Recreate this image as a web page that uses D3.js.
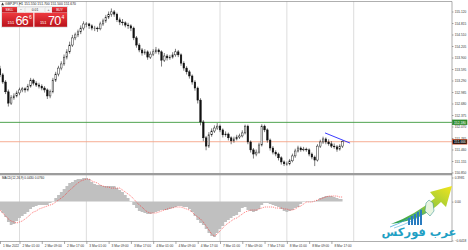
<!DOCTYPE html>
<meta charset="utf-8">
<style>
    body { margin: 0; background: #fff; }
    svg { display: block; font-family: "Liberation Sans", Arial, sans-serif; }
    .axis text { font-size: 3.2px; fill: #333; }
    .axis line { stroke: #555; stroke-width: 0.5; }
    .axis path.domain { display: none; }
    .grid line { stroke: #777; stroke-width: 0.5; stroke-dasharray: 1, 1; }
    .wick { stroke: #111; stroke-width: 0.55; }
    .body.up { fill: #fff; stroke: #111; stroke-width: 0.45; }
    .body.down { fill: #111; stroke: #111; stroke-width: 0.45; }
    .hist { fill: #c0c0c0; }
    .signal { fill: none; stroke: #ff2020; stroke-width: 0.6; stroke-dasharray: 1, 1; }
    .label { font-size: 3.4px; fill: #222; }
</style>
<body>
<script src="https://cdn.jsdelivr.net/npm/d3@7"></script>
<script>
    var width = 468, height = 250;
    var axisX = 452;
    var mainTop = 1.5, mainBottom = 173, sepBottom = 175.3, macdBottom = 241.5;

    var symbol = "GBPJPY,H1";

    // [open, high, low, close], H1 bars from 1 Mar 2022 18:00
    var bars = [
        [153.60, 153.68, 153.38, 153.44], [153.44, 153.49, 153.20, 153.25], [153.25, 153.30, 152.93, 152.99],
        [152.99, 153.05, 152.60, 152.69], [152.69, 152.90, 152.64, 152.83], [152.83, 152.95, 152.78, 152.88],
        [152.88, 153.02, 152.84, 152.96], [152.96, 153.10, 152.90, 153.04], [153.04, 153.12, 152.98, 153.07],
        [153.07, 153.11, 152.97, 153.04], [153.04, 153.20, 153.00, 153.14], [153.14, 153.36, 153.10, 153.30],
        [153.30, 153.34, 153.16, 153.22], [153.22, 153.27, 153.12, 153.17], [153.17, 153.23, 153.08, 153.14],
        [153.14, 153.19, 153.03, 153.09], [153.09, 153.14, 152.97, 153.04], [153.04, 153.08, 152.80, 152.88],
        [152.88, 153.05, 152.82, 152.99], [152.99, 153.36, 152.95, 153.30], [153.30, 153.52, 153.25, 153.46],
        [153.46, 153.68, 153.40, 153.62], [153.62, 153.80, 153.56, 153.73], [153.73, 153.98, 153.68, 153.91],
        [153.91, 154.12, 153.85, 154.05], [154.05, 154.32, 154.00, 154.23], [154.23, 154.50, 154.18, 154.42],
        [154.42, 154.56, 154.36, 154.50], [154.50, 154.64, 154.44, 154.58], [154.58, 154.75, 154.52, 154.68],
        [154.68, 154.86, 154.62, 154.79], [154.79, 154.84, 154.70, 154.79], [154.79, 154.82, 154.66, 154.74],
        [154.74, 154.78, 154.62, 154.68], [154.68, 154.74, 154.60, 154.68], [154.68, 154.72, 154.58, 154.66],
        [154.66, 154.85, 154.62, 154.79], [154.79, 154.93, 154.74, 154.87], [154.87, 155.03, 154.82, 154.97],
        [154.97, 155.12, 154.92, 155.05], [155.05, 155.20, 154.98, 155.11], [155.11, 155.16, 154.98, 155.05],
        [155.05, 155.09, 154.84, 154.90], [154.90, 154.96, 154.76, 154.84], [154.84, 154.92, 154.75, 154.82],
        [154.82, 154.86, 154.70, 154.76], [154.76, 154.82, 154.66, 154.74], [154.74, 154.78, 154.60, 154.68],
        [154.68, 154.72, 154.36, 154.42], [154.42, 154.47, 154.16, 154.23], [154.23, 154.28, 154.04, 154.10],
        [154.10, 154.15, 153.95, 154.02], [154.02, 154.12, 153.97, 154.05], [154.05, 154.09, 153.84, 153.91],
        [153.91, 154.06, 153.86, 153.99], [153.99, 154.12, 153.94, 154.05], [154.05, 154.18, 154.00, 154.10],
        [154.10, 154.14, 153.98, 154.05], [154.05, 154.09, 153.66, 153.83], [153.83, 154.02, 153.78, 153.94],
        [153.94, 153.99, 153.82, 153.89], [153.89, 153.97, 153.84, 153.91], [153.91, 154.04, 153.87, 153.97],
        [153.97, 154.13, 153.92, 154.05], [154.05, 154.10, 153.91, 153.97], [153.97, 154.01, 153.68, 153.75],
        [153.75, 153.80, 153.55, 153.62], [153.62, 153.67, 153.45, 153.52], [153.52, 153.57, 153.34, 153.41],
        [153.41, 153.45, 153.18, 153.25], [153.25, 153.30, 153.02, 153.09], [153.09, 153.13, 152.68, 152.77],
        [152.77, 152.82, 152.10, 152.19], [152.19, 152.24, 151.68, 151.77], [151.77, 151.82, 151.44, 151.55],
        [151.55, 151.92, 151.50, 151.85], [151.85, 152.02, 151.80, 151.95], [151.95, 152.10, 151.90, 152.03],
        [152.03, 152.16, 151.98, 152.08], [152.08, 152.12, 151.92, 151.98], [151.98, 152.02, 151.78, 151.85],
        [151.85, 151.94, 151.80, 151.87], [151.87, 151.91, 151.70, 151.77], [151.77, 151.81, 151.60, 151.69],
        [151.69, 151.80, 151.64, 151.74], [151.74, 151.85, 151.70, 151.79], [151.79, 151.88, 151.74, 151.82],
        [151.82, 151.97, 151.78, 151.90], [151.90, 152.12, 151.86, 152.08], [152.08, 152.12, 151.60, 151.66],
        [151.66, 151.70, 151.38, 151.45], [151.45, 151.50, 151.22, 151.34], [151.34, 151.46, 151.28, 151.39],
        [151.39, 151.64, 151.35, 151.58], [151.58, 152.13, 151.54, 152.08], [152.08, 152.12, 151.92, 151.98],
        [151.98, 152.02, 151.64, 151.71], [151.71, 151.75, 151.43, 151.50], [151.50, 151.55, 151.33, 151.39],
        [151.39, 151.44, 151.28, 151.34], [151.34, 151.38, 151.17, 151.24], [151.24, 151.28, 151.06, 151.13],
        [151.13, 151.17, 151.02, 151.08], [151.08, 151.14, 151.03, 151.08], [151.08, 151.21, 151.04, 151.16],
        [151.16, 151.35, 151.12, 151.29], [151.29, 151.48, 151.24, 151.42], [151.42, 151.56, 151.38, 151.50],
        [151.50, 151.54, 151.40, 151.45], [151.45, 151.53, 151.41, 151.47], [151.47, 151.51, 151.40, 151.45],
        [151.45, 151.49, 151.28, 151.34], [151.34, 151.38, 151.20, 151.26], [151.26, 151.30, 151.02, 151.18],
        [151.18, 151.60, 151.14, 151.55], [151.55, 151.72, 151.50, 151.66], [151.66, 151.80, 151.61, 151.74],
        [151.74, 151.78, 151.60, 151.66], [151.66, 151.73, 151.56, 151.61], [151.61, 151.68, 151.50, 151.55],
        [151.55, 151.62, 151.48, 151.53], [151.53, 151.58, 151.40, 151.47], [151.47, 151.60, 151.43, 151.55],
        [151.55, 151.70, 151.50, 151.67]
    ];

    var macdHist = [
        -0.139, -0.188, -0.254, -0.337, -0.386, -0.370, -0.320, -0.271, -0.238, -0.205,
        -0.172, -0.122, -0.089, -0.073, -0.056, -0.056, -0.056, -0.056, -0.023, 0.010,
        0.059, 0.109, 0.158, 0.208, 0.257, 0.307, 0.323, 0.356, 0.373, 0.373,
        0.389, 0.389, 0.373, 0.323, 0.290, 0.274, 0.274, 0.257, 0.257, 0.257,
        0.257, 0.257, 0.224, 0.191, 0.158, 0.109, 0.059, 0.010, -0.056, -0.106,
        -0.155, -0.172, -0.188, -0.205, -0.205, -0.188, -0.172, -0.155, -0.139, -0.139,
        -0.139, -0.122, -0.106, -0.089, -0.073, -0.073, -0.089, -0.089, -0.122, -0.172,
        -0.238, -0.304, -0.353, -0.386, -0.452, -0.518, -0.568, -0.584, -0.518, -0.452,
        -0.403, -0.337, -0.304, -0.271, -0.238, -0.221, -0.172, -0.106, -0.089, -0.139,
        -0.155, -0.172, -0.155, -0.122, -0.056, -0.023, -0.023, -0.040, -0.056, -0.073,
        -0.089, -0.122, -0.155, -0.172, -0.155, -0.139, -0.106, -0.089, -0.040, -0.007,
        0.010, 0.010, -0.007, -0.007, 0.026, 0.059, 0.076, 0.092, 0.092, 0.092,
        0.076, 0.059, 0.043, 0.043
    ];

    var macdSignal = [
        -0.139, -0.188, -0.238, -0.287, -0.320, -0.337, -0.353, -0.337, -0.320, -0.287,
        -0.254, -0.205, -0.172, -0.155, -0.122, -0.106, -0.089, -0.073, -0.056, -0.040,
        -0.007, 0.026, 0.059, 0.092, 0.142, 0.191, 0.224, 0.274, 0.307, 0.340,
        0.356, 0.373, 0.373, 0.340, 0.323, 0.307, 0.274, 0.257, 0.241, 0.241,
        0.224, 0.224, 0.224, 0.224, 0.191, 0.158, 0.125, 0.092, 0.043, -0.007,
        -0.056, -0.089, -0.139, -0.172, -0.188, -0.188, -0.188, -0.172, -0.155, -0.139,
        -0.122, -0.106, -0.106, -0.089, -0.089, -0.089, -0.106, -0.122, -0.139, -0.172,
        -0.221, -0.254, -0.287, -0.337, -0.403, -0.469, -0.535, -0.568, -0.535, -0.485,
        -0.436, -0.386, -0.353, -0.320, -0.287, -0.271, -0.238, -0.205, -0.172, -0.155,
        -0.139, -0.139, -0.139, -0.122, -0.106, -0.089, -0.089, -0.089, -0.089, -0.106,
        -0.106, -0.106, -0.122, -0.122, -0.139, -0.139, -0.122, -0.089, -0.073, -0.040,
        -0.007, -0.007, -0.007, 0.010, 0.026, 0.043, 0.059, 0.076, 0.092, 0.092,
        0.092, 0.092, 0.076, 0.076
    ];

    var priceTicks = [155.120, 154.815, 154.510, 154.205, 153.900, 153.595, 153.290, 152.985,
        152.680, 152.375, 152.070, 151.765, 151.460, 151.155, 150.850];
    var macdTicks = [0.3981, 0, -0.6418];

    var timeLabels = ["1 Mar 2022", "2 Mar 01:00", "2 Mar 09:00", "2 Mar 17:00", "3 Mar 01:00",
        "3 Mar 09:00", "3 Mar 17:00", "4 Mar 01:00", "4 Mar 09:00", "4 Mar 17:00", "7 Mar 01:00",
        "7 Mar 09:00", "7 Mar 17:00", "8 Mar 01:00", "8 Mar 09:00", "8 Mar 17:00"];
    var timeIndex = [0, 7, 15, 23, 31, 39, 47, 55, 63, 71, 79, 87, 95, 103, 111, 119];
    var gridIndex = [7, 31, 55, 79, 103, 127];

    var levelPrice = 152.18;
    var bidPrice = 151.666, askPrice = 151.704;
    var trendLine = [[116.7, 151.90], [125.7, 151.63]];
    var lotSize = "0.01";

    var x = d3.scaleLinear().domain([0, 100]).range([0, 278.5]);
    var y = d3.scaleLinear().domain([150.85, 155.12]).range([172.5, 11.5]);
    var m = d3.scaleLinear().domain([-0.6418, 0.3981]).range([240.5, 177.5]);

    var svg = d3.select("body").append("svg")
            .attr("width", width)
            .attr("height", height);

    var defs = svg.append("defs");
    defs.append("clipPath").attr("id", "clipMain")
        .append("rect").attr("x", 0).attr("y", mainTop).attr("width", axisX).attr("height", mainBottom - mainTop);
    defs.append("clipPath").attr("id", "clipMacd")
        .append("rect").attr("x", 0).attr("y", sepBottom).attr("width", axisX).attr("height", macdBottom - sepBottom);

    var redGrad = defs.append("linearGradient").attr("id", "redGrad")
            .attr("x1", 0).attr("y1", 0).attr("x2", 0).attr("y2", 1);
    redGrad.append("stop").attr("offset", 0).attr("stop-color", "#ee3a3f");
    redGrad.append("stop").attr("offset", 1).attr("stop-color", "#b9121a");

    var arrowGrad = defs.append("linearGradient").attr("id", "arrowGrad")
            .attr("x1", 0).attr("y1", 1).attr("x2", 1).attr("y2", 0);
    arrowGrad.append("stop").attr("offset", 0).attr("stop-color", "#1c9a52");
    arrowGrad.append("stop").attr("offset", 0.5).attr("stop-color", "#8cc63f");
    arrowGrad.append("stop").attr("offset", 1).attr("stop-color", "#f2e51c");

    // grid
    svg.append("g").attr("class", "grid")
        .selectAll("line").data(gridIndex).enter().append("line")
            .attr("x1", function (d) { return x(d); })
            .attr("x2", function (d) { return x(d); })
            .attr("y1", mainTop)
            .attr("y2", macdBottom);

    // level lines
    svg.append("line")
            .attr("x1", 0).attr("x2", axisX)
            .attr("y1", y(levelPrice)).attr("y2", y(levelPrice))
            .attr("stroke", "#3c9a3c").attr("stroke-width", 0.9);
    svg.append("line")
            .attr("x1", 0).attr("x2", axisX)
            .attr("y1", y(bidPrice)).attr("y2", y(bidPrice))
            .attr("stroke", "#f4a487").attr("stroke-width", 0.9);

    // candles
    var candles = svg.append("g").attr("clip-path", "url(#clipMain)")
        .selectAll("g").data(bars).enter().append("g");
    candles.append("line").attr("class", "wick")
            .attr("x1", function (d, i) { return x(i); })
            .attr("x2", function (d, i) { return x(i); })
            .attr("y1", function (d) { return y(d[1]); })
            .attr("y2", function (d) { return y(d[2]); });
    candles.append("rect")
            .attr("class", function (d) { return d[3] >= d[0] ? "body up" : "body down"; })
            .attr("x", function (d, i) { return x(i) - 0.8; })
            .attr("width", 1.6)
            .attr("y", function (d) { return y(Math.max(d[0], d[3])); })
            .attr("height", function (d) { return Math.max(0.4, Math.abs(y(d[0]) - y(d[3]))); });

    svg.append("line")
            .attr("x1", x(trendLine[0][0])).attr("y1", y(trendLine[0][1]))
            .attr("x2", x(trendLine[1][0])).attr("y2", y(trendLine[1][1]))
            .attr("stroke", "#2424ff").attr("stroke-width", 0.9);

    // MACD
    var macdG = svg.append("g").attr("clip-path", "url(#clipMacd)");
    macdG.append("path").attr("class", "hist")
            .datum(macdHist)
            .attr("d", d3.area().curve(d3.curveStep)
                .x(function (d, i) { return x(i); })
                .y0(m(0))
                .y1(function (d) { return m(d); }));
    macdG.append("path").attr("class", "signal")
            .datum(macdSignal)
            .attr("d", d3.line().x(function (d, i) { return x(i); }).y(function (d) { return m(d); }));

    // frame
    svg.append("line").attr("x1", 0).attr("x2", axisX).attr("y1", mainTop).attr("y2", mainTop)
            .attr("stroke", "#9a9a9a").attr("stroke-width", 0.8);
    svg.append("rect").attr("x", 0).attr("y", mainBottom).attr("width", axisX).attr("height", sepBottom - mainBottom)
            .attr("fill", "#9c9c9c");
    svg.append("line").attr("x1", 0).attr("x2", axisX).attr("y1", macdBottom).attr("y2", macdBottom)
            .attr("stroke", "#777").attr("stroke-width", 0.6);
    svg.append("line").attr("x1", axisX).attr("x2", axisX).attr("y1", mainTop).attr("y2", macdBottom)
            .attr("stroke", "#777").attr("stroke-width", 0.6);

    // axes
    svg.append("g").attr("class", "axis")
            .attr("transform", "translate(" + axisX + ",0)")
            .call(d3.axisRight(y).tickValues(priceTicks).tickSize(1.5).tickPadding(1.2)
                .tickFormat(d3.format(".3f")));
    svg.append("g").attr("class", "axis")
            .attr("transform", "translate(" + axisX + ",0)")
            .call(d3.axisRight(m).tickValues(macdTicks).tickSize(1.5).tickPadding(1.2)
                .tickFormat(function (d) { return d === 0 ? "0.00" : d3.format(".4f")(d); }));
    var xAxisG = svg.append("g").attr("class", "axis")
            .attr("transform", "translate(0," + macdBottom + ")")
            .call(d3.axisBottom(x).tickValues(timeIndex).tickSize(2.5).tickPadding(1)
                .tickFormat(function (d, i) { return timeLabels[i]; }));
    xAxisG.selectAll("text").attr("text-anchor", "start").attr("dx", 2.5);

    // price labels on axis
    function axisTag(price, fill, stroke) {
        var g = svg.append("g").attr("transform", "translate(" + axisX + "," + y(price) + ")");
        g.append("rect").attr("x", 0.5).attr("y", -2.4).attr("width", 14.5).attr("height", 4.8)
                .attr("fill", fill).attr("stroke", stroke).attr("stroke-width", 0.6);
        g.append("text").attr("x", 2).attr("y", 1.2).attr("fill", "#fff")
                .style("font-size", "3.3px").text(d3.format(".3f")(price));
    }
    axisTag(levelPrice, "#2e8b2e", "#2e8b2e");
    axisTag(bidPrice, "#111", "#e9552a");

    // header and MACD caption
    var last = bars[bars.length - 1];
    svg.append("text").attr("class", "label").attr("x", 5).attr("y", 5.2)
            .text(symbol + "  " + last.map(d3.format(".3f")).join(" "));
    svg.append("path").attr("d", "M1.2,5.2 L2.6,2.4 L4,5.2 Z").attr("fill", "#333");
    svg.append("text").attr("class", "label").attr("x", 2).attr("y", 178.8)
            .style("font-size", "3.1px")
            .text("MACD(12,26,9) " + d3.format(".4f")(macdHist[macdHist.length - 1]) + " " +
                d3.format(".4f")(macdSignal[macdSignal.length - 1]));

    // one-click trading panel
    var panel = svg.append("g");
    panel.append("rect").attr("x", 1.5).attr("y", 6.5).attr("width", 66).attr("height", 20.6)
            .attr("fill", "#fff").attr("stroke", "#bbb").attr("stroke-width", 0.4);
    panel.append("rect").attr("x", 2).attr("y", 7).attr("width", 15).attr("height", 5.6).attr("fill", "url(#redGrad)");
    panel.append("rect").attr("x", 52).attr("y", 7).attr("width", 15).attr("height", 5.6).attr("fill", "url(#redGrad)");
    [[17, 8, "\u2212"], [25, 20, lotSize], [45, 7, "+"]].forEach(function (b) {
        panel.append("rect").attr("x", b[0] + 0.2).attr("y", 7.2).attr("width", b[1] - 0.4).attr("height", 5.2)
                .attr("fill", "#f4f4f4").attr("stroke", "#ccc").attr("stroke-width", 0.3);
        panel.append("text").attr("x", b[0] + b[1] / 2).attr("y", 11.2).attr("text-anchor", "middle")
                .attr("fill", "#333").style("font-size", "3.4px").text(b[2]);
    });
    panel.append("text").attr("x", 9.5).attr("y", 11.2).attr("text-anchor", "middle").attr("fill", "#fff")
            .style("font-size", "3.2px").text("SELL");
    panel.append("text").attr("x", 59.5).attr("y", 11.2).attr("text-anchor", "middle").attr("fill", "#fff")
            .style("font-size", "3.2px").text("BUY");

    function quoteBox(x0, w, price) {
        var s = d3.format(".3f")(price);
        panel.append("rect").attr("x", x0).attr("y", 12.8).attr("width", w).attr("height", 14)
                .attr("fill", "url(#redGrad)");
        panel.append("text").attr("x", x0 + 5.5).attr("y", 23.6).attr("fill", "#fff")
                .style("font-size", "4px").text(s.slice(0, 3));
        panel.append("text").attr("x", x0 + 13.5).attr("y", 25.2).attr("fill", "#fff")
                .style("font-size", "12.5px").style("letter-spacing", "-0.6px").text(s.slice(4, 6));
        panel.append("text").attr("x", x0 + 27).attr("y", 18.6).attr("fill", "#fff")
                .style("font-size", "5px").text(s.slice(6));
    }
    quoteBox(2, 31.3, bidPrice);
    quoteBox(34.4, 32.6, askPrice);

    // watermark logo
    var logo = svg.append("g").attr("transform", "translate(389,184)");
    logo.append("path")
            .attr("d", "M2,40 Q26,31 46,14 L41,8 L63,2 L57,23 L52,18 Q34,36 2,40 Z")
            .attr("fill", "url(#arrowGrad)");
    logo.append("path").attr("d", "M1,43 Q20,36 33,25").attr("fill", "none")
            .attr("stroke", "#2f9fd8").attr("stroke-width", 0.7);
    logo.append("path").attr("d", "M5,44 Q24,38 37,28").attr("fill", "none")
            .attr("stroke", "#2f9fd8").attr("stroke-width", 0.5);
    [[19, 7], [22, 9], [25, 11], [28, 13], [31, 15]].forEach(function (b) {
        logo.append("rect").attr("x", b[0]).attr("y", 41 - b[1]).attr("width", 2).attr("height", b[1])
                .attr("fill", "#2a7cc0");
    });
    logo.append("path").attr("d", "M37,19 L40,16 L44,19 L45,27 L41,32 L36,27 Z")
            .attr("fill", "#e9f5e0").attr("stroke", "#2a8a8a").attr("stroke-width", 0.5);
    logo.append("text").attr("x", 30).attr("y", 51.5).attr("text-anchor", "middle")
            .attr("fill", "#1fa0c4").style("font-family", "'DejaVu Sans', sans-serif")
            .style("font-size", "11.5px").style("font-weight", "bold").text("عرب فوركس");
</script>
</body>
